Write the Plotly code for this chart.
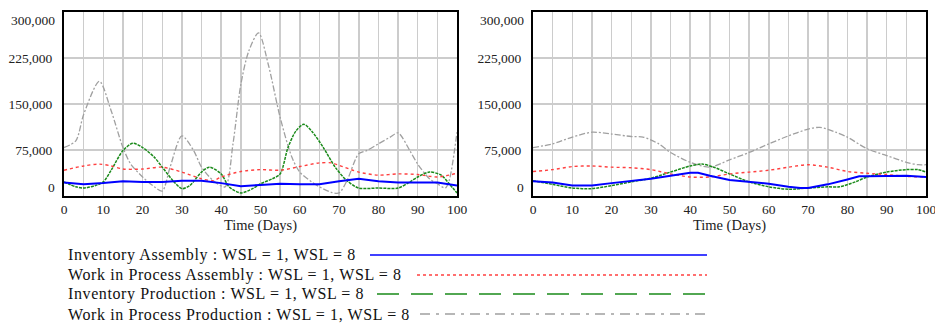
import plotly.graph_objects as go

# ---------------- data ----------------
# Left panel (WSL = 1)
days_L_inv_asm = [0, 5, 10, 15, 20, 25, 30, 35, 40, 45, 50, 55, 60, 65, 70, 75, 80, 85, 90, 95, 100]
L_inv_asm = [22000, 19000, 21000, 24000, 23000, 23000, 25000, 25000, 21000, 16000, 18000,
             20000, 19000, 19000, 24000, 28000, 24000, 22000, 22000, 22000, 17000]

days_L_wip_asm = [0, 5, 9, 12, 15, 20, 25, 30, 35, 38, 40, 45, 50, 55, 60, 65, 68, 70, 75, 80, 85, 90, 95, 100]
L_wip_asm = [42000, 49000, 52000, 49000, 44000, 44000, 47000, 39000, 28000, 25000, 31000, 40000,
             43000, 42000, 48000, 54000, 54000, 50000, 39000, 34000, 36000, 35000, 31000, 37000]

days_L_inv_prod = [0, 3, 5, 8, 10, 12, 15, 17.5, 20, 23, 25, 28, 30, 32, 35, 37, 40, 42, 45, 48, 50,
                   53, 55, 57, 59, 61, 63, 66, 69, 72, 75, 80, 85, 88, 90, 93, 96, 98, 100]
L_inv_prod = [23000, 15000, 13000, 17000, 23000, 42000, 74000, 86000, 79000, 63000, 47000, 23000,
              12000, 17000, 39000, 47000, 36000, 15000, 5000, 12000, 20000, 28000, 36000, 79000,
              106000, 117000, 106000, 79000, 47000, 25000, 13000, 13000, 13000, 23000, 31000,
              39000, 34000, 20000, 5000]

days_L_wip_prod = [0, 3, 5, 9, 12, 15, 17, 20, 23, 25, 27, 30, 33, 35, 38, 41, 43, 45, 47, 49.5,
                   52, 55, 58, 60, 63, 65, 68, 70, 72, 75, 77, 80, 83, 85, 88, 90, 93, 95, 97, 98, 100]
L_wip_prod = [79000, 90000, 133000, 187000, 139000, 79000, 52000, 31000, 15000, 8000, 47000, 98000,
              74000, 47000, 25000, 15000, 85000, 182000, 236000, 266000, 214000, 128000, 63000,
              39000, 23000, 15000, 6000, 5000, 25000, 69000, 74000, 85000, 96000, 103000, 74000,
              52000, 28000, 20000, 13000, 25000, 104000]

# Right panel (WSL = 8)
days_R_inv_asm = [0, 5, 10, 15, 20, 25, 30, 35, 40, 42, 45, 50, 55, 60, 65, 68, 70, 75, 80, 83, 85, 90, 95, 100]
R_inv_asm = [24000, 22000, 17000, 17000, 21000, 24000, 28000, 33000, 38000, 38000, 33000, 26000,
             23000, 20000, 15000, 13000, 13000, 19000, 27000, 32000, 32000, 32000, 33000, 31000]

days_R_wip_asm = [0, 5, 10, 15, 20, 25, 30, 35, 40, 45, 50, 55, 60, 65, 70, 75, 80, 85, 90, 95, 100]
R_wip_asm = [40000, 43000, 48000, 49000, 47000, 46000, 43000, 36000, 31000, 31000, 36000, 39000,
             42000, 47000, 51000, 47000, 40000, 37000, 35000, 32000, 31000]

days_R_inv_prod = [0, 5, 10, 15, 20, 25, 30, 35, 40, 43, 46, 50, 55, 60, 65, 70, 75, 78, 82, 85, 90, 95, 98, 100]
R_inv_prod = [25000, 19000, 13000, 12000, 17000, 23000, 29000, 39000, 49000, 52000, 47000, 36000,
              23000, 15000, 11000, 13000, 15000, 15000, 23000, 31000, 39000, 43000, 43000, 39000]

days_R_wip_prod = [0, 5, 10, 15, 20, 25, 28, 32, 35, 40, 45, 50, 55, 60, 65, 70, 73, 77, 80, 85, 90, 95, 98, 100]
R_wip_prod = [79000, 85000, 96000, 104000, 101000, 97000, 96000, 85000, 71000, 55000, 47000, 59000,
              71000, 85000, 98000, 109000, 112000, 104000, 96000, 77000, 66000, 55000, 51000, 51000]

series_names = [
    "Inventory Assembly : WSL = 1, WSL = 8",
    "Work in Process Assembly : WSL = 1, WSL = 8",
    "Inventory Production : WSL = 1, WSL = 8",
    "Work in Process Production : WSL = 1, WSL = 8",
]
x_ticks = [0, 10, 20, 30, 40, 50, 60, 70, 80, 90, 100]
y_ticks = [0, 75000, 150000, 225000, 300000]
y_ticktext = ["0", "75,000", "150,000", "225,000", "300,000"]

# ---------------- styles ----------------
FONT = '"Liberation Serif", serif'
styles = [
    dict(color="#0000ff", width=2, dash="solid", shape="linear"),
    dict(color="#ff4040", width=1.4, dash="dot", shape="spline"),
    dict(color="#1a8a1a", width=1.5, dash="3px,1px", shape="spline"),
    dict(color="#a0a0a0", width=1.3, dash="6px,2px,2px,2px", shape="spline"),
]

fig = go.Figure()

left = [(days_L_inv_asm, L_inv_asm), (days_L_wip_asm, L_wip_asm),
        (days_L_inv_prod, L_inv_prod), (days_L_wip_prod, L_wip_prod)]
right = [(days_R_inv_asm, R_inv_asm), (days_R_wip_asm, R_wip_asm),
         (days_R_inv_prod, R_inv_prod), (days_R_wip_prod, R_wip_prod)]

for panel, (xa, ya) in ((left, ("x", "y")), (right, ("x2", "y2"))):
    for i in [3, 2, 1, 0]:
        xs, ys = panel[i]
        st = styles[i]
        fig.add_trace(go.Scatter(
            x=xs, y=ys, mode="lines", name=series_names[i], showlegend=False,
            xaxis=xa, yaxis=ya, hoverinfo="skip",
            line=dict(color=st["color"], width=st["width"], dash=st["dash"],
                      shape=st["shape"], smoothing=0.8 if st["shape"] == "spline" else None),
        ))

W, H = 935, 325
def px(xp): return xp / W
def py(yp): return 1 - yp / H

TICKFONT = dict(family=FONT, size=13.5, color="#222")
# inner tick labels on the axis; the end labels are nudged inward as in the reference
inner_text = [t if 0 < k < len(y_ticktext) - 1 else "" for k, t in enumerate(y_ticktext)]

common_x = dict(range=[0, 100], tickvals=x_ticks, showgrid=True, gridcolor="#cccccc", gridwidth=1.5,
                minor=dict(dtick=5, showgrid=True, gridcolor="#cccccc", gridwidth=1.5),
                showline=True, linecolor="#000000", linewidth=2, mirror=True, zeroline=False,
                ticks="", automargin=False, ticklabeloverflow="allow", tickfont=TICKFONT,
                title=dict(text="Time (Days)", font=dict(family=FONT, size=14.5, color="#222"), standoff=1))
common_y = dict(range=[0, 300000], tickvals=y_ticks, ticktext=inner_text, showgrid=True,
                gridcolor="#cccccc", gridwidth=1.5, showline=True, linecolor="#000000", linewidth=2,
                mirror=True, zeroline=False, ticks="", ticklabelstandoff=7, automargin=False,
                tickfont=TICKFONT)

y0, y1 = py(196), py(12)
fig.update_layout(
    width=W, height=H, margin=dict(l=0, r=0, t=0, b=0, autoexpand=False),
    paper_bgcolor="white", plot_bgcolor="white", showlegend=False,
    xaxis=dict(domain=[px(64), px(457)], anchor="y", **common_x),
    yaxis=dict(domain=[y0, y1], anchor="x", **common_y),
    xaxis2=dict(domain=[px(533), px(926)], anchor="y2", **common_x),
    yaxis2=dict(domain=[y0, y1], anchor="x2", **common_y),
)

for yref, xdom in (("y", "x domain"), ("y2", "x2 domain")):
    for val, txt, shift in ((y_ticks[0], y_ticktext[0], 9), (y_ticks[-1], y_ticktext[-1], -8)):
        fig.add_annotation(xref=xdom, yref=yref, x=0, y=val, text=txt, showarrow=False,
                           xanchor="right", yanchor="middle", xshift=-7, yshift=shift,
                           font=TICKFONT)

# custom legend at the bottom
rows_y = [255, 275, 294, 314]
line_starts = [370, 417, 377, 420]
legend_dash = ["solid", "3px,3px", "22px,12px", "10px,6px,3px,6px"]
for i, name in enumerate(series_names):
    fig.add_annotation(xref="paper", yref="paper", x=px(66), y=py(rows_y[i]),
                       text='<span style="letter-spacing:0.6px">' + name + "</span>",
                       showarrow=False, xanchor="left", yanchor="middle",
                       font=dict(family=FONT, size=16, color="#111"))
    fig.add_shape(type="line", xref="paper", yref="paper",
                  x0=px(line_starts[i]), x1=px(707), y0=py(rows_y[i]), y1=py(rows_y[i]),
                  line=dict(color=styles[i]["color"], width=1.5, dash=legend_dash[i]))

fig.write_html("out.html", config={"displayModeBar": False, "staticPlot": True},
               post_script="document.body.style.margin='0px';document.body.style.padding='0px';")
